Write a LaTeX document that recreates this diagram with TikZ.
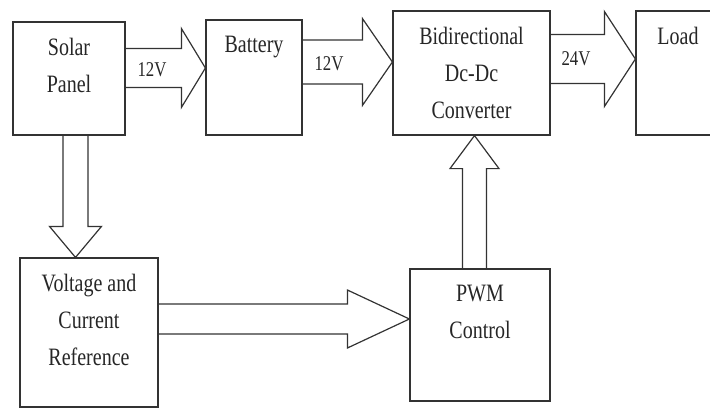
\documentclass[tikz,border=0pt]{standalone}
\usepackage{fontspec}
\setmainfont{Liberation Serif}[FakeStretch=0.8]
\usetikzlibrary{calc,positioning}

% hollow block arrow: start, tip, half shaft, half head, head length
\newcommand{\blockarrow}[5]{%
  \coordinate (bahead) at ($(#2)!#5!(#1)$);
  \draw[barrow] ($(#1)!#3!90:(#2)$) -- ($(bahead)!#3!-90:(#1)$) -- ($(bahead)!#4!-90:(#1)$)
    -- (#2) -- ($(bahead)!#4!90:(#1)$) -- ($(bahead)!#3!90:(#1)$) -- ($(#1)!#3!-90:(#2)$);}

\begin{document}
\begin{tikzpicture}[x=1pt, y=-1pt,
    block/.style={rectangle, draw=black!80, line width=1.2pt, inner sep=0pt},
    blocktext/.style={anchor=north, yshift=-17pt, align=center, inner sep=0pt,
      font=\fontsize{25}{37}\selectfont, text=black!85},
    barrow/.style={draw=black!80, line width=1.2pt, line join=miter},
    vlabel/.style={font=\fontsize{21}{25}\selectfont, text=black!85, inner sep=0pt}]
    \useasboundingbox (0,0) rectangle (710,408);
    \clip (0,0) rectangle (710,408);

    \node[block, minimum width=112pt, minimum height=113pt, label={[blocktext]north:{Solar\\Panel}}] (solar) at (69,78.5) {};
    \node[block, minimum width=96pt, minimum height=115pt, label={[blocktext]north:Battery}] (battery) at (254,77.5) {};
    \node[block, minimum width=157pt, minimum height=124pt, label={[blocktext]north:{Bidirectional\\Dc-Dc\\Converter}}] (conv) at (471.5,73) {};
    \node[block, minimum width=84pt, minimum height=124pt, label={[blocktext]north:Load}] (load) at (678,73) {};
    \node[block, minimum width=138pt, minimum height=149pt, label={[blocktext]north:{Voltage and\\Current\\Reference}}] (vcr) at (89,332.5) {};
    \node[block, minimum width=140pt, minimum height=132pt, label={[blocktext]north:{PWM\\Control}}] (pwm) at (480,335) {};

    % arrow tips and starts
    \coordinate (t1) at (battery.west |- 0,68);
    \coordinate (s1) at (solar.east |- t1);
    \coordinate (t2) at (conv.west |- 0,62);
    \coordinate (s2) at (battery.east |- t2);
    \coordinate (t3) at (load.west |- 0,59);
    \coordinate (s3) at (conv.east |- t3);
    \coordinate (t4) at (vcr.north -| 75.5,0);
    \coordinate (s4) at (solar.south -| t4);
    \coordinate (t5) at (pwm.west |- 0,319);
    \coordinate (s5) at (vcr.east |- t5);
    \coordinate (t6) at (conv.south -| 474.5,0);
    \coordinate (s6) at (pwm.north -| t6);

    \blockarrow{s1}{t1}{19.5pt}{39.5pt}{24pt}
    \blockarrow{s2}{t2}{22pt}{43.5pt}{30pt}
    \blockarrow{s3}{t3}{24.5pt}{47.5pt}{31pt}
    \blockarrow{s4}{t4}{12.5pt}{26pt}{31pt}
    \blockarrow{s5}{t5}{15pt}{29pt}{62pt}
    \blockarrow{s6}{t6}{12pt}{24.5pt}{33pt}

    \node[vlabel] (v1) at (152,70) {12V};
    \node[vlabel] (v2) at (329,64) {12V};
    \node[vlabel] (v3) at (576,58.5) {24V};
\end{tikzpicture}
\end{document}
